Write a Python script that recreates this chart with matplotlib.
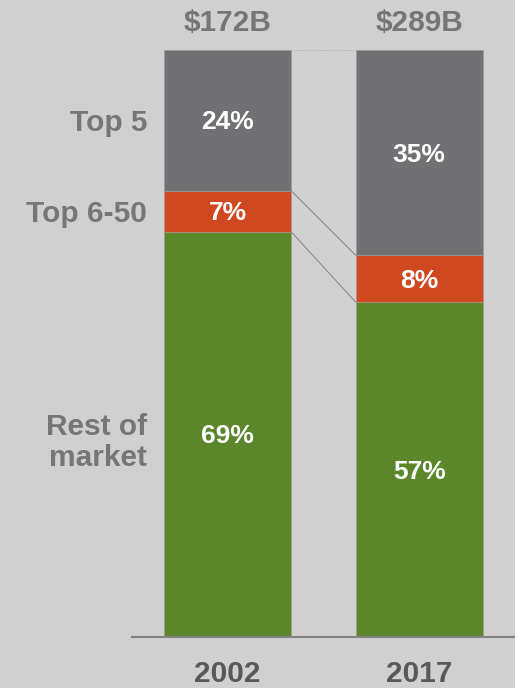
import matplotlib.pyplot as plt
import numpy as np

plt.rcParams['font.family'] = ['Liberation Sans', 'DejaVu Sans']

# market share by tier, bottom to top
years = ['2002', '2017']
totals = ['$172B', '$289B']
segments = ['Rest of\nmarket', 'Top 6-50', 'Top 5']
rest_of_market = [69, 57]
top_6_50 = [7, 8]
top_5 = [24, 35]

colors = ['#5b862a', '#d0481f', '#717073']
bg = '#d0d0d0'

fig = plt.figure(figsize=(5.15, 6.88), dpi=100, facecolor=bg)
ax = fig.add_axes([0.2563, 0.0746, 0.7437, 0.8528], facecolor=bg)

x = np.arange(len(years))
width = 0.663
series = [rest_of_market, top_6_50, top_5]
bottom = np.zeros(len(years))
for vals, c in zip(series, colors):
    vals = np.array(vals, dtype=float)
    ax.bar(x, vals, width, bottom=bottom, color=c, edgecolor='#9c9c9c',
           linewidth=0.4, zorder=2)
    for xi, v, b in zip(x, vals, bottom):
        ax.text(xi, b + v / 2 - 0.35, f'{int(v)}%', ha='center', va='center',
                color='white', fontsize=19, fontweight='bold', zorder=3)
    bottom += vals

# connector lines between segment boundaries
cum = np.cumsum(np.array(series), axis=0)
for row in cum[:-1]:
    ax.plot([x[0] + width / 2, x[1] - width / 2], [row[0], row[1]],
            color='#7a7a7a', lw=0.6, zorder=1)
ax.plot([x[0] + width / 2, x[1] - width / 2], [cum[-1][0], cum[-1][1]],
        color='#a0a0a0', lw=0.6, ls=':', zorder=1)

# segment names on the left, aligned to the 2002 bar
left = x[0] - width / 2 - 0.09
b = 0
for vals, name in zip(series, segments):
    v = vals[0]
    ax.text(left, b + v / 2 - (1.4 if '\n' in name else 0.5), name,
            ha='right', va='center', color='#767676', fontsize=21.5,
            fontweight='bold', linespacing=1.15, clip_on=False)
    b += v

# totals above bars
for xi, t in zip(x, totals):
    ax.text(xi, 104.6, t, ha='center', va='center', color='#767676',
            fontsize=21.5, fontweight='bold', clip_on=False)

ax.set_xlim(-0.5, 1.5)
ax.set_ylim(0, 100)
ax.set_xticks(x)
ax.set_xticklabels(years, fontsize=21.5, fontweight='bold', color='#595959')
ax.tick_params(axis='x', length=0, pad=17)
ax.set_yticks([])
for s in ['top', 'right', 'left']:
    ax.spines[s].set_visible(False)
ax.spines['bottom'].set_color('#808080')
ax.spines['bottom'].set_linewidth(1.5)

plt.savefig('out.png', dpi=100, facecolor=bg)
